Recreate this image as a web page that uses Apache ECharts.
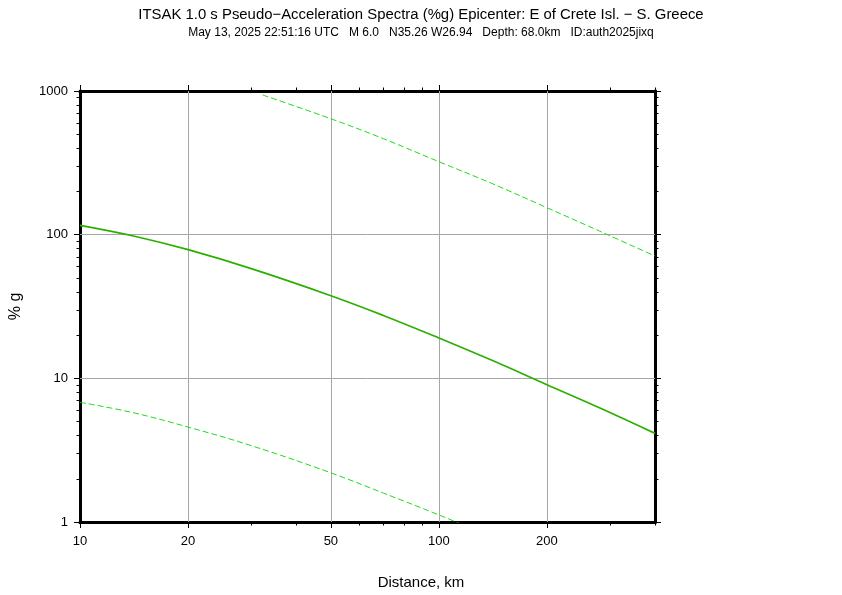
<!DOCTYPE html>
<html>
<head>
<meta charset="utf-8">
<script src="https://cdn.jsdelivr.net/npm/echarts@6/dist/echarts.min.js"></script>
<style>html,body{margin:0;padding:0;background:#fff}#c{width:842px;height:595px}</style>
</head>
<body>
<div id="c"></div>
<script>
// Data
const distances   = [10, 14, 20, 30, 50, 70, 100, 140, 200, 280, 400];
const meanValues  = [116.2, 98.3, 78.6, 58.0, 37.6, 27.4, 19.1, 13.4, 9.03, 6.24, 4.14];
const upperDist   = [32.3, 50, 70, 100, 140, 200, 280, 400];
const upperValues = [938, 641, 466, 322, 228, 154, 106, 71.0];
const lowerDist   = [10, 14, 20, 30, 50, 70, 100, 140];
const lowerValues = [6.81, 5.78, 4.58, 3.4, 2.2, 1.59, 1.12, 0.79];

const xMajorTicks = [10, 20, 50, 100, 200];
const xMinorTicks = [30, 40, 60, 70, 80, 90, 300, 400];
const yMajorTicks = [1, 10, 100, 1000];
const yMinorTicks = [2,3,4,5,6,7,8,9,20,30,40,50,60,70,80,90,200,300,400,500,600,700,800,900];
const xGridValues = [20, 50, 100, 200];
const yGridValues = [10, 100];

const titleText = 'ITSAK 1.0 s Pseudo\u2212Acceleration Spectra (%g) Epicenter: E of Crete Isl. \u2212 S. Greece';
const subText = 'May 13, 2025 22:51:16 UTC   M 6.0   N35.26 W26.94   Depth: 68.0km   ID:auth2025jixq';

const FONT = 'Liberation Sans, Arial, Helvetica, sans-serif';
const fmt = v => String(Number(Number(v).toPrecision(6)));

function xAx(pos, ticks, len, labels) {
  return {
    type: 'log', logBase: 10, min: 10, max: 400, position: pos,
    axisLine: { show: true, onZero: false, lineStyle: { color: '#000', width: 3 } },
    axisTick: { show: true, inside: false, length: len, customValues: ticks, lineStyle: { color: '#000', width: 1 } },
    axisLabel: labels ? { show: true, customValues: ticks, formatter: fmt, color: '#000', fontSize: 13, fontFamily: FONT, margin: 13 } : { show: false },
    splitLine: { show: false }, minorTick: { show: false }
  };
}
function yAx(pos, ticks, len, labels) {
  return {
    type: 'log', logBase: 10, min: 1, max: 1000, position: pos,
    axisLine: { show: true, onZero: false, lineStyle: { color: '#000', width: 3 } },
    axisTick: { show: true, inside: false, length: len, customValues: ticks, lineStyle: { color: '#000', width: 1 } },
    axisLabel: labels ? { show: true, customValues: ticks, formatter: fmt, color: '#000', fontSize: 13, fontFamily: FONT, margin: 12 } : { show: false },
    splitLine: { show: false }, minorTick: { show: false }
  };
}

const yMain = yAx('left', yMajorTicks, 6, true);
yMain.name = '% g';
yMain.nameLocation = 'middle';
yMain.nameGap = 56;
yMain.nameRotate = 90;
yMain.nameTextStyle = { color: '#000', fontSize: 16, fontFamily: FONT };

const option = {
  backgroundColor: '#fff',
  animation: false,
  grid: { left: 79, right: 187, top: 91, bottom: 73, containLabel: false },
  title: [
    { text: titleText, left: 421, top: 7, textAlign: 'center', padding: 0,
      textStyle: { color: '#000', fontSize: 14.9, fontWeight: 'normal', fontFamily: FONT } },
    { text: subText, left: 421, top: 26.5, textAlign: 'center', padding: 0,
      textStyle: { color: '#000', fontSize: 12, fontWeight: 'normal', fontFamily: FONT } },
    { text: 'Distance, km', left: 421, top: 575, textAlign: 'center', padding: 0,
      textStyle: { color: '#000', fontSize: 15, fontWeight: 'normal', fontFamily: FONT } }
  ],
  xAxis: [
    xAx('bottom', xMajorTicks, 6, true),
    xAx('bottom', xMinorTicks, 3.5, false),
    xAx('top', xMajorTicks, 6, false),
    xAx('top', xMinorTicks, 3.5, false)
  ],
  yAxis: [
    yMain,
    yAx('left', yMinorTicks, 3.5, false),
    yAx('right', yMajorTicks, 6, false),
    yAx('right', yMinorTicks, 3.5, false)
  ],
  series: [
    {
      type: 'line', name: 'mean', xAxisIndex: 0, yAxisIndex: 0, z: 3,
      data: distances.map((d, i) => [d, meanValues[i]]),
      showSymbol: false, smooth: 0.4, clip: true,
      lineStyle: { color: 'rgb(45,175,0)', width: 1.7 },
      markLine: {
        silent: true, symbol: ['none', 'none'], z: 1, animation: false,
        label: { show: false },
        lineStyle: { color: '#a6a6a6', width: 1, type: 'solid' },
        emphasis: { disabled: true },
        data: xGridValues.map(v => ({ xAxis: v })).concat(yGridValues.map(v => ({ yAxis: v })))
      }
    },
    {
      type: 'line', name: 'upper', xAxisIndex: 0, yAxisIndex: 0, z: 3,
      data: upperDist.map((d, i) => [d, upperValues[i]]),
      showSymbol: false, smooth: 0.4, clip: true,
      lineStyle: { color: 'rgb(30,220,30)', width: 1, type: [6, 3] }
    },
    {
      type: 'line', name: 'lower', xAxisIndex: 0, yAxisIndex: 0, z: 3,
      data: lowerDist.map((d, i) => [d, lowerValues[i]]),
      showSymbol: false, smooth: 0.4, clip: true,
      lineStyle: { color: 'rgb(30,220,30)', width: 1, type: [6, 3] }
    }
  ]
};

const chart = echarts.init(document.getElementById('c'), null, { renderer: 'canvas' });
chart.setOption(option);
</script>
</body>
</html>
